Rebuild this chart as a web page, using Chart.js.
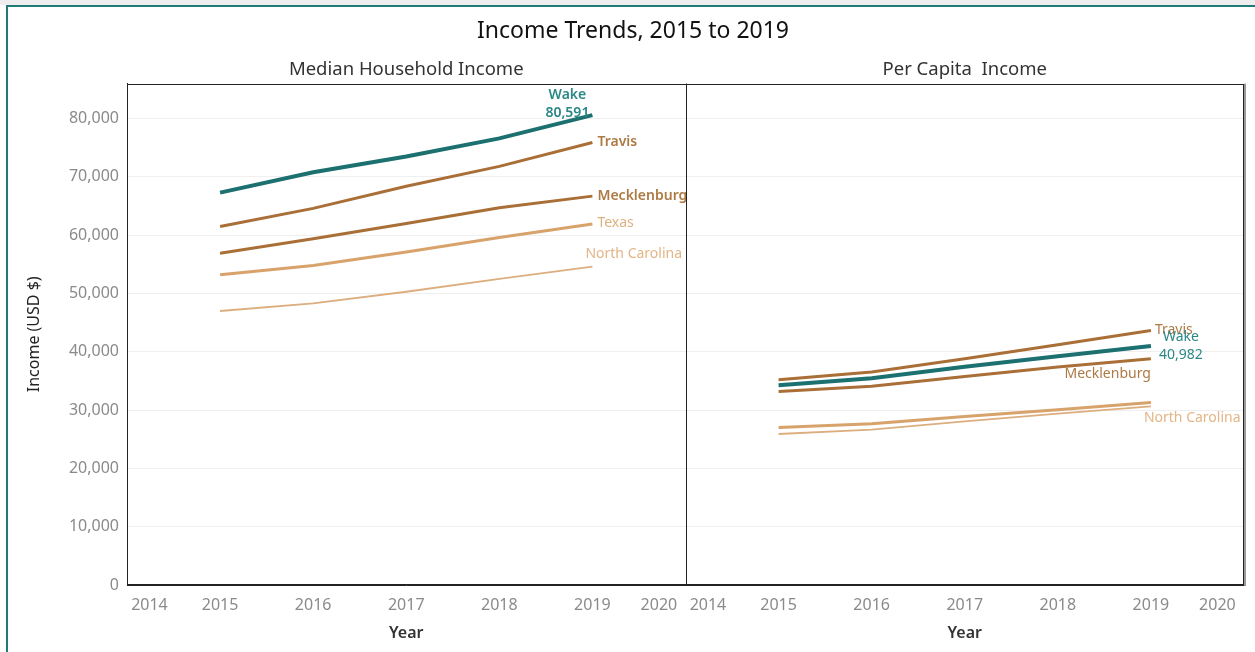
<!DOCTYPE html>
<html>
<head>
<meta charset="utf-8">
<title>Income Trends, 2015 to 2019</title>
<script src="https://cdn.jsdelivr.net/npm/chart.js@4"></script>
<style>
  html, body { margin: 0; padding: 0; background: #fff; }
  body { width: 1255px; height: 652px; overflow: hidden; position: relative; font-family: "Noto Sans", sans-serif; }
  .strip { position: absolute; left: 0; top: 0; width: 1255px; height: 5px; background: #eeeeee; }
  .frame { position: absolute; left: 6px; top: 5px; width: 1260px; height: 660px; border-top: 2px solid #1f7a78; border-left: 2px solid #1f7a78; }
  #income { position: absolute; left: 0; top: 0; }
</style>
</head>
<body>
<div class="strip"></div>
<div class="frame"></div>
<canvas id="income" width="1255" height="652"></canvas>
<script>
// years shown on both panels
const years = [2015, 2016, 2017, 2018, 2019];
const yearTicks = [2014, 2015, 2016, 2017, 2018, 2019, 2020];
const incomeTicks = [0, 10000, 20000, 30000, 40000, 50000, 60000, 70000, 80000];

// median household income
const medianWake = [67300, 70800, 73500, 76600, 80591];
const medianTravis = [61500, 64600, 68400, 71800, 75900];
const medianMecklenburg = [56900, 59400, 62000, 64700, 66700];
const medianTexas = [53200, 54800, 57100, 59600, 61900];
const medianNorthCarolina = [47000, 48300, 50300, 52500, 54600];

// per capita income
const perCapitaWake = [34250, 35450, 37450, 39230, 40982];
const perCapitaTravis = [35200, 36550, 38800, 41200, 43650];
const perCapitaMecklenburg = [33200, 34100, 35750, 37400, 38800];
const perCapitaTexas = [27000, 27650, 28900, 30050, 31300];
const perCapitaNorthCarolina = [25900, 26650, 28050, 29400, 30650];

const FONT = '"Noto Sans", "DejaVu Sans", sans-serif';
const fmt = v => v.toLocaleString('en-US');

// line look for each place
const looks = {
  'Wake':           { line: '#1d7070', width: 4,   text: '#2b8787' },
  'Travis':         { line: '#a96f37', width: 3,   text: '#ad7a44' },
  'Mecklenburg':    { line: '#a96f37', width: 3,   text: '#ad7a44' },
  'Texas':          { line: '#d8a26b', width: 3,   text: '#e0b07e' },
  'North Carolina': { line: '#dcae7e', width: 1.8, text: '#e3b587' }
};

function series(name, values, axis, label) {
  const look = looks[name];
  return {
    label: name,
    xAxisID: axis,
    data: years.map((yr, i) => ({ x: yr, y: values[i] })),
    borderColor: look.line,
    backgroundColor: look.line,
    borderWidth: look.width,
    pointRadius: 0,
    tension: 0,
    endLabel: label ? Object.assign({ color: look.text }, label) : null
  };
}

const datasets = [
  series('Wake', medianWake, 'xLeft', { value: true, align: 'center', dx: -25, dy: -20, weight: '600' }),
  series('Travis', medianTravis, 'xLeft', { align: 'left', dx: 5, dy: 0, weight: '600' }),
  series('Mecklenburg', medianMecklenburg, 'xLeft', { align: 'left', dx: 5, dy: 0, weight: '600' }),
  series('Texas', medianTexas, 'xLeft', { align: 'left', dx: 5, dy: -1 }),
  series('North Carolina', medianNorthCarolina, 'xLeft', { align: 'left', dx: -7, dy: -13 }),
  series('Wake', perCapitaWake, 'xRight', { value: true, align: 'center', dx: 30, dy: -9 }),
  series('Travis', perCapitaTravis, 'xRight', { align: 'left', dx: 4, dy: 0 }),
  series('Mecklenburg', perCapitaMecklenburg, 'xRight', { align: 'right', dx: 0, dy: 15 }),
  series('Texas', perCapitaTexas, 'xRight', null),
  series('North Carolina', perCapitaNorthCarolina, 'xRight', { align: 'left', dx: -7, dy: 12 })
];

// names (and the Wake value) written at the end of each line
const endLabels = {
  id: 'endLabels',
  afterDatasetsDraw(chart) {
    const ctx = chart.ctx;
    ctx.save();
    ctx.textBaseline = 'middle';
    for (let i = chart.data.datasets.length - 1; i >= 0; i--) {
      const ds = chart.data.datasets[i];
      const lab = ds.endLabel;
      if (!lab) continue;
      const pts = chart.getDatasetMeta(i).data;
      const last = pts[pts.length - 1];
      const lines = [ds.label];
      if (lab.value) lines.push(fmt(ds.data[ds.data.length - 1].y));
      ctx.fillStyle = lab.color;
      ctx.textAlign = lab.align;
      ctx.font = (lab.weight || 'normal') + ' 14px ' + FONT;
      lines.forEach((t, k) => ctx.fillText(t, last.x + lab.dx, last.y + lab.dy + k * 18));
    }
    ctx.restore();
  }
};

// box around both panels plus the divider between them
const panelFrame = {
  id: 'panelFrame',
  afterDraw(chart) {
    const { ctx, chartArea: a, scales } = chart;
    ctx.save();
    ctx.strokeStyle = '#222';
    ctx.lineWidth = 1;
    ctx.strokeRect(Math.round(a.left) + 0.5, Math.round(a.top) + 0.5, Math.round(a.width) - 1, Math.round(a.height) - 1);
    const x = Math.round(scales.xRight.left) + 0.5;
    ctx.beginPath();
    ctx.moveTo(x, a.top);
    ctx.lineTo(x, a.bottom);
    ctx.stroke();
    ctx.strokeStyle = '#9a9a9a';
    ctx.lineWidth = 2;
    ctx.beginPath();
    ctx.moveTo(Math.round(a.right) + 1, a.top);
    ctx.lineTo(Math.round(a.right) + 1, a.bottom + 1);
    ctx.stroke();
    ctx.restore();
  }
};

// keep the outer year labels a little inside the panel edges
function yearLabel(v, i, ticks) {
  if (i === 0) return ' ' + v;
  if (i === ticks.length - 1) return v + '  ';
  return String(v);
}

function yearAxis(title) {
  return {
    type: 'linear',
    position: 'bottom',
    stack: 'year',
    stackWeight: 1,
    min: 2014,
    max: 2020,
    afterBuildTicks: s => { s.ticks = yearTicks.map(v => ({ value: v })); },
    afterFit: s => { s.height = 67; },
    ticks: {
      align: 'inner',
      color: '#8a8a8a',
      font: { family: FONT, size: 16 },
      padding: 11,
      maxRotation: 0,
      autoSkip: false,
      callback: yearLabel
    },
    grid: { display: false, drawTicks: false },
    border: { color: '#222' },
    title: { display: true, text: title, color: '#333', font: { family: FONT, size: 16, weight: '600' }, padding: { top: 0, bottom: 9 } }
  };
}

function headerAxis(title) {
  return {
    type: 'linear',
    position: 'top',
    stack: 'head',
    stackWeight: 1,
    min: 2014,
    max: 2020,
    afterFit: s => { s.height = 32; },
    ticks: { display: false },
    grid: { display: false, drawTicks: false },
    border: { display: false },
    title: { display: true, text: title, color: '#333', font: { family: FONT, size: 18.5 }, padding: { top: 7, bottom: 0 } }
  };
}

new Chart(document.getElementById('income'), {
  type: 'line',
  data: { datasets },
  plugins: [endLabels, panelFrame],
  options: {
    responsive: false,
    animation: false,
    layout: { padding: { left: 20, right: 9, top: 0, bottom: 0 } },
    plugins: {
      legend: { display: false },
      tooltip: { enabled: false },
      title: {
        display: true,
        text: 'Income Trends, 2015 to 2019',
        color: '#111',
        font: { family: FONT, size: 23, weight: 'normal' },
        padding: { top: 18, bottom: 6 }
      }
    },
    scales: {
      y: {
        position: 'left',
        min: 0,
        max: 86000,
        afterBuildTicks: s => { s.ticks = incomeTicks.map(v => ({ value: v })); },
        afterFit: s => { s.width = 107; },
        ticks: { color: '#8a8a8a', font: { family: FONT, size: 16 }, padding: 8, callback: v => fmt(v) },
        grid: { color: '#efefef', drawTicks: false },
        border: { color: '#222' },
        title: { display: true, text: 'Income (USD $)', color: '#222', font: { family: FONT, size: 16 }, padding: { top: 5, bottom: 0 } }
      },
      xLeft: yearAxis('Year'),
      xRight: yearAxis('Year'),
      // top boxes are laid out in reverse, so the right header comes first
      hRight: headerAxis('Per Capita  Income'),
      hLeft: headerAxis('Median Household Income')
    }
  }
});
</script>
</body>
</html>
